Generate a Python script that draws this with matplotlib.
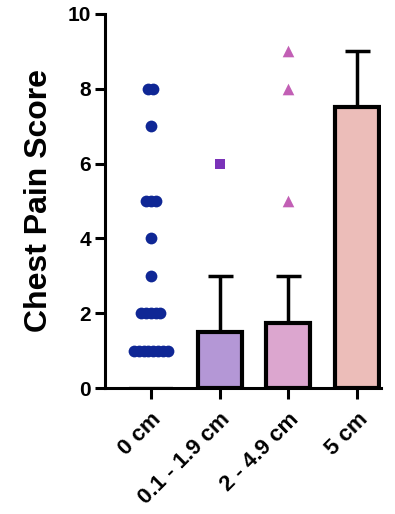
import matplotlib.pyplot as plt
import numpy as np

plt.rcParams['font.family'] = ['Liberation Sans', 'DejaVu Sans']
plt.rcParams['font.weight'] = 'bold'

categories = ['0 cm', '0.1 - 1.9 cm', '2 - 4.9 cm', '5 cm']
bar_heights = [0, 1.5, 1.75, 7.5]
err_tops = [None, 3, 3, 9]
bar_colors = ['white', '#b497d6', '#dca6cf', '#ecbdb9']

# individual scores shown as points
pts_0cm = [8, 8, 7, 5, 5, 5, 4, 3, 2, 2, 2, 2, 2, 1, 1, 1, 1, 1, 1, 1, 1]
pts_small = [6]
pts_mid = [9, 8, 5]

fig = plt.figure(figsize=(3.95, 5.14), dpi=100)
ax = fig.add_axes([0.265, 0.245, 0.70, 0.728])

x = np.arange(len(categories))
ax.bar(x, bar_heights, width=0.64, color=bar_colors, edgecolor='black',
       linewidth=[1.6, 3, 3, 3], zorder=2)

for xi, h, top in zip(x, bar_heights, err_tops):
    if top is None:
        continue
    ax.errorbar(xi, h, yerr=[[0], [top - h]], fmt='none', ecolor='black',
                elinewidth=2.5, capsize=9, capthick=2.5, zorder=1)

# spread equal values sideways like a scatter dot plot
def spread(vals, step=0.07):
    xs, ys = [], []
    for v in sorted(set(vals), reverse=True):
        n = vals.count(v)
        for i in range(n):
            xs.append((i - (n - 1) / 2) * step)
            ys.append(v)
    return np.array(xs), np.array(ys)

dx, dy = spread(pts_0cm)
ax.scatter(dx + 0, dy, s=72, color='#0f2795', zorder=3, linewidths=0)
ax.scatter([1] * len(pts_small), pts_small, marker='s', s=62,
           color='#7a32b8', zorder=3, linewidths=0)
ax.scatter([2] * len(pts_mid), pts_mid, marker='^', s=70,
           color='#c25fb5', zorder=3, linewidths=0)

ax.set_xlim(-0.67, 3.35)
ax.set_ylim(0, 10)
ax.set_yticks([0, 2, 4, 6, 8, 10])
ax.set_xticks(x)
ax.set_xticklabels(categories, rotation=45, ha='right', rotation_mode='anchor',
                   fontsize=16, fontweight='bold')
ax.tick_params(axis='y', labelsize=15, width=2.2, length=7, pad=3)
ax.tick_params(axis='x', width=2.2, length=8, pad=7)
for lab in ax.get_yticklabels():
    lab.set_fontweight('bold')
ax.set_ylabel('Chest Pain Score', fontsize=23, fontweight='bold', labelpad=10)

ax.spines['top'].set_visible(False)
ax.spines['right'].set_visible(False)
ax.spines['left'].set_linewidth(2.2)
ax.spines['bottom'].set_linewidth(2.2)

fig.savefig('out.png', dpi=100)
